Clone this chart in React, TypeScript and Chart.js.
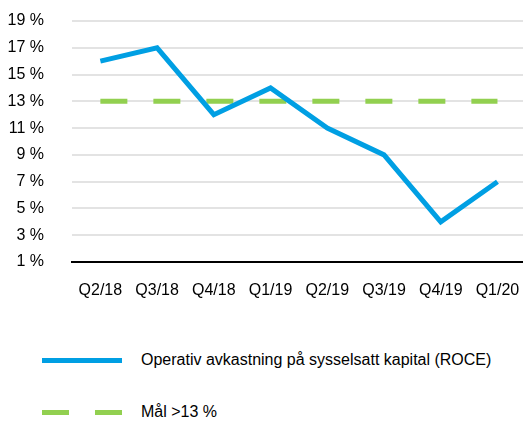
import React, { useEffect, useRef } from "react";
import { Chart, registerables } from "chart.js";

Chart.register(...registerables);

const categories = ["Q2/18", "Q3/18", "Q4/18", "Q1/19", "Q2/19", "Q3/19", "Q4/19", "Q1/20"];
const roceValues = [16, 17, 12, 14, 11, 9, 4, 7];
const targetValues = [13, 13, 13, 13, 13, 13, 13, 13];
const roceLabel = "Operativ avkastning på sysselsatt kapital (ROCE)";
const targetLabel = "Mål >13 %";
const yMin = 1;
const yMax = 19;
const yStep = 2;

const BLUE = "#009FE3";
const GREEN = "#92D050";
const FONT = "'Liberation Sans', Arial, sans-serif";

export default function App() {
  const canvasRef = useRef<HTMLCanvasElement | null>(null);

  useEffect(() => {
    const canvas = canvasRef.current;
    if (!canvas) return;
    const chart = new Chart(canvas, {
      type: "line",
      data: {
        datasets: [
          {
            label: roceLabel,
            data: categories.map((_, i) => ({ x: i, y: roceValues[i] })),
            borderColor: BLUE,
            backgroundColor: BLUE,
            borderWidth: 5,
            pointRadius: 0,
            borderJoinStyle: "miter",
            borderCapStyle: "butt",
            tension: 0,
          },
          {
            label: targetLabel,
            data: categories.map((_, i) => ({ x: i, y: targetValues[i] })),
            borderColor: GREEN,
            backgroundColor: GREEN,
            borderWidth: 5,
            borderDash: [27, 26],
            pointRadius: 0,
            borderCapStyle: "butt",
            tension: 0,
          },
        ],
      },
      options: {
        animation: false,
        responsive: false,
        maintainAspectRatio: false,
        layout: { padding: { top: 21, right: 0, bottom: 0, left: 0 } },
        plugins: {
          legend: { display: false },
          tooltip: { enabled: false },
        },
        scales: {
          x: {
            type: "linear",
            min: -0.5,
            max: 7.45,
            grid: { display: false, drawTicks: false },
            border: { display: true, color: "#000000", width: 2 },
            afterBuildTicks: (scale: any) => {
              scale.ticks = categories.map((_, i) => ({ value: i }));
            },
            afterFit: (scale: any) => {
              scale.height = 48;
              scale.paddingLeft = 0;
              scale.paddingRight = 0;
            },
            ticks: {
              autoSkip: false,
              maxRotation: 0,
              padding: 19,
              color: "#000000",
              font: { family: FONT, size: 16 },
              callback: (v: any) => categories[v as number] ?? "",
            },
          },
          y: {
            type: "linear",
            min: yMin,
            max: yMax,
            grid: { color: "#e3e3e3", lineWidth: 2, drawTicks: false },
            border: { display: false },
            afterFit: (scale: any) => {
              scale.width = 72;
              scale.paddingTop = 0;
              scale.paddingBottom = 0;
            },
            ticks: {
              stepSize: yStep,
              padding: 28,
              color: "#000000",
              font: { family: FONT, size: 16 },
              callback: (v: any) => `${v} %`,
            },
          },
        },
      },
    });
    return () => chart.destroy();
  }, []);

  const textStyle: React.CSSProperties = {
    position: "absolute",
    left: 141,
    fontFamily: FONT,
    fontSize: 16,
    color: "#000",
    lineHeight: "18px",
    whiteSpace: "nowrap",
  };

  return (
    <div style={{ position: "fixed", left: 0, top: 0, width: 523, height: 421, background: "#fff" }}>
      <canvas ref={canvasRef} width={523} height={310} style={{ position: "absolute", left: 0, top: 0 }} />
      <div style={{ position: "absolute", left: 42, top: 358, width: 80, height: 5, background: BLUE }} />
      <div style={{ ...textStyle, top: 351 }}>{roceLabel}</div>
      <div style={{ position: "absolute", left: 42, top: 410, width: 27, height: 5, background: GREEN }} />
      <div style={{ position: "absolute", left: 95, top: 410, width: 27, height: 5, background: GREEN }} />
      <div style={{ ...textStyle, top: 403 }}>{targetLabel}</div>
    </div>
  );
}
